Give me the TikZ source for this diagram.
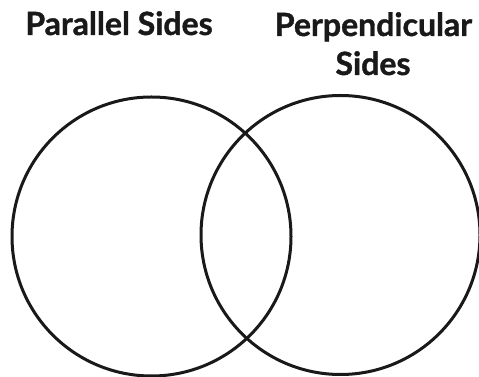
\documentclass[tikz,border=0pt]{standalone}
\usepackage{fontspec}
\setmainfont{Lato}
\newfontfamily\headfont{Lato}[BoldFeatures={FakeBold=1.2}]
\begin{document}
\begin{tikzpicture}[x=1pt,y=1pt,
  ring/.style={draw=black!90,line width=3pt},
  heading/.style={font=\headfont\fontsize{32}{36}\selectfont\bfseries,text=black!90,anchor=base,inner sep=0pt}]
\useasboundingbox (0,0) rectangle (479,377);
\node[ring,circle,minimum size=279pt,inner sep=0pt] (left) at (151.5,140.5) {};
\node[ring,circle,minimum size=279pt,inner sep=0pt] (right) at (340.5,142) {};
\node[heading] (t1) at (119,342) {Parallel Sides};
\node[heading] (t2) at (373.5,341) {Perpendicular};
\node[heading] (t3) at (373,302) {Sides};
\end{tikzpicture}
\end{document}
